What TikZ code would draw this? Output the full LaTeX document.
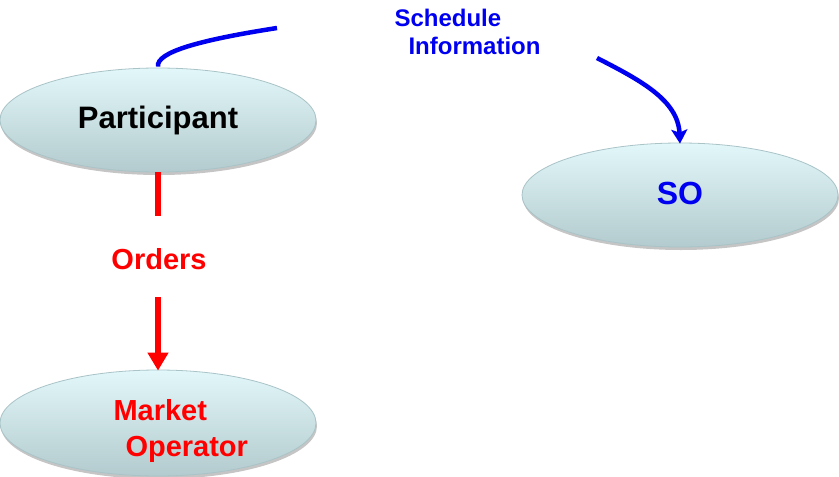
\documentclass[tikz,border=0pt]{standalone}
\usepackage{fontspec}
\setmainfont{Liberation Sans}
\usetikzlibrary{shapes.geometric,arrows.meta,shadows}
\definecolor{ovtop}{HTML}{E2F7FA}
\definecolor{ovbot}{HTML}{B3CBCE}
\definecolor{ovedge}{HTML}{A9C3C7}
\definecolor{infoblue}{HTML}{0000F0}
\definecolor{ordred}{HTML}{FF0000}
\begin{document}
\begin{tikzpicture}[x=1pt,y=-1pt,
  oval/.style={ellipse, minimum width=316pt, minimum height=104pt, inner sep=0pt,
    top color=ovtop, bottom color=ovbot, draw=ovedge, line width=0.8pt,
    drop shadow={shadow xshift=1pt, shadow yshift=-3pt, opacity=0.35, fill=gray!70!black},
    font=\bfseries\fontsize{31}{34}\selectfont},
  lbl/.style={font=\bfseries\fontsize{29}{36}\selectfont, align=left},
  blueflow/.style={draw=infoblue, line width=4.5pt},
  redflow/.style={draw=ordred, line width=5.5pt}]
\useasboundingbox (0,0) rectangle (839,477);

% Nodes
\node[oval] (P) at (158,120) {\raisebox{4pt}{Participant}};
\node[oval, text=infoblue, font=\bfseries\fontsize{32}{34}\selectfont] (SO) at (680,195) {\raisebox{3pt}{SO}};
\node[oval, minimum height=106pt] (MO) at (158,423) {};
\node[lbl, text=ordred, anchor=west] (MOt) at (110,431)
  {Market\\\hspace*{12pt}Operator};

\node[lbl, text=ordred] (ord) at (159,259) {Orders};
\node[lbl, text=infoblue, font=\bfseries\fontsize{24}{28}\selectfont, anchor=west] (sched) at (391,32)
  {Schedule\\\hspace*{14pt}Information};

% Free ends of the connectors
\coordinate (b1) at (277,28);
\coordinate (b2) at (597,58);
\coordinate (r1) at (158,216);
\coordinate (r2) at (158,297);

% Schedule information flow
\draw[blueflow, line cap=butt] ([yshift=1pt]P.north) .. controls (156,52) and (200,40) .. (b1);
\draw[blueflow, -{Stealth[length=14pt,width=16pt,inset=3pt]}] (b2) .. controls (640,80) and (678,100) .. ([yshift=-1pt]SO.north);

% Orders flow
\draw[redflow] (P.south) -- (r1);
\draw[redflow, -{Triangle[length=18pt,width=20pt]}] (r2) -- ([yshift=-1pt]MO.north);
\end{tikzpicture}
\end{document}
